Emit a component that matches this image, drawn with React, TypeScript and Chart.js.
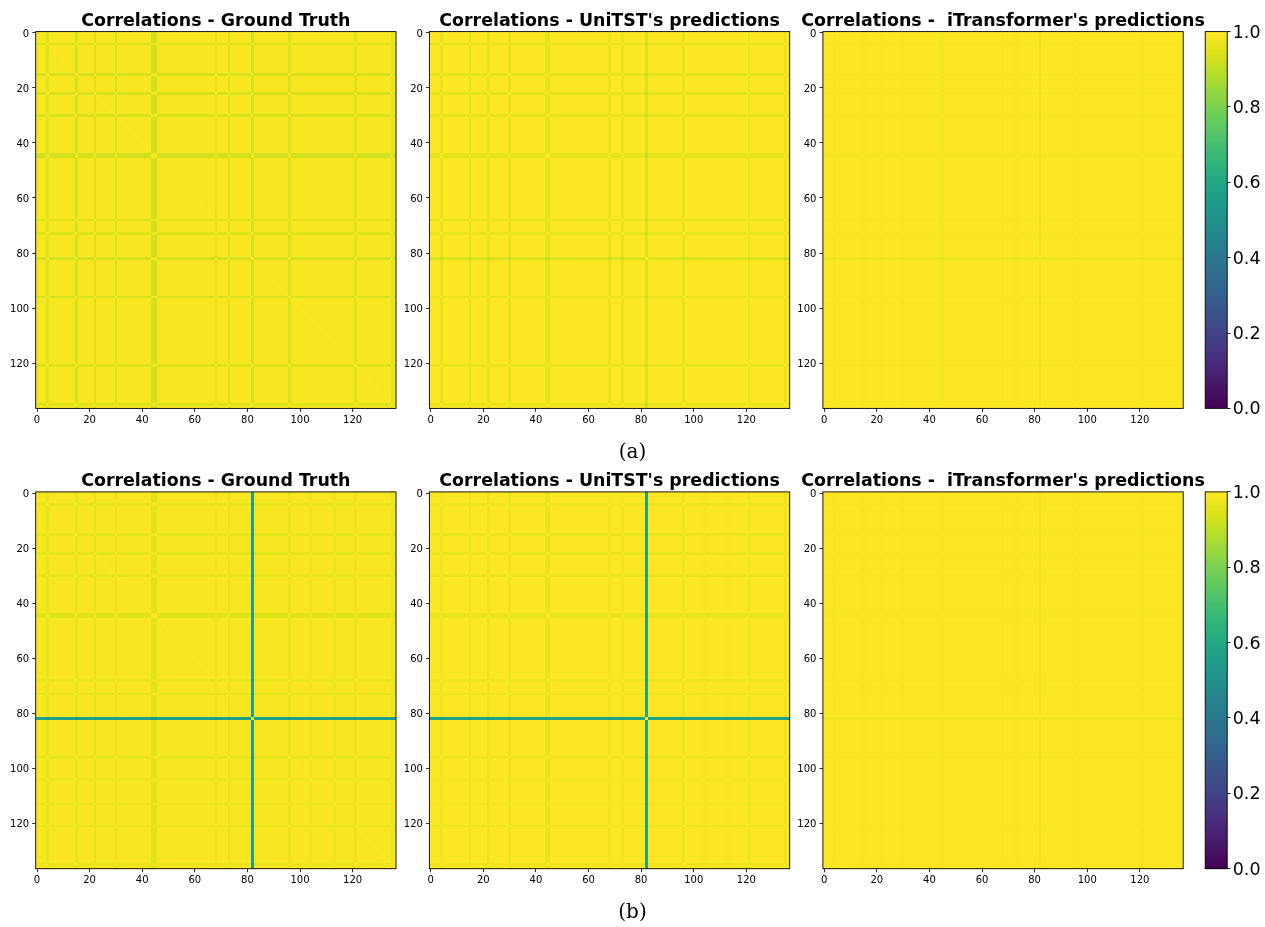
import React, { useEffect, useRef } from "react";
import { Chart, registerables } from "chart.js";

Chart.register(...registerables);

// ---------------- data ----------------
const N_VARIABLES = 137;
const AXIS_TICKS = [0, 20, 40, 60, 80, 100, 120];
const COLORBAR_TICKS = [0, 0.2, 0.4, 0.6, 0.8, 1.0];

// variables whose correlations deviate visibly from the rest
const LINE_INDICES = [4, 15, 22, 30, 44, 45, 68, 73, 82, 96, 104, 113, 121, 135];

// signed deviation of each listed variable, per panel (row a)
const GT_A_SHIFT = [-0.05, -0.055, -0.055, -0.055, -0.065, -0.065, -0.045, -0.05, -0.06, -0.055, 0, 0, -0.05, -0.05];
const UNITST_A_SHIFT = [-0.03, -0.035, -0.035, -0.035, -0.04, -0.04, -0.03, -0.03, 0.055, -0.03, 0, 0, -0.025, -0.03];
const ITRANS_A_SHIFT = [-0.004, -0.005, -0.005, -0.005, -0.006, -0.006, -0.004, -0.004, 0.022, -0.004, 0, 0, -0.003, -0.003];

// row b
const GT_B_SHIFT = [-0.03, -0.03, -0.035, -0.03, -0.04, -0.04, -0.025, -0.03, 0.43, -0.03, -0.02, -0.02, -0.025, -0.025];
const UNITST_B_SHIFT = [-0.02, -0.025, -0.025, -0.025, -0.03, -0.03, -0.02, -0.02, 0.41, -0.02, -0.01, -0.01, -0.02, -0.02];
const ITRANS_B_SHIFT = [-0.003, -0.004, -0.004, -0.004, -0.005, -0.005, -0.003, -0.003, 0.018, -0.003, 0, 0, -0.002, -0.002];

// general level below 1 of off-diagonal correlations, per panel
const BASE_A = [0.006, 0.005, 0.004];
const BASE_B = [0.006, 0.005, 0.004];

const PANEL_TITLES = [
  "Correlations - Ground Truth",
  "Correlations - UniTST's predictions",
  "Correlations -  iTransformer's predictions",
];
const ROW_CAPTIONS = ["(a)", "(b)"];

const VIRIDIS_STOPS = [
  "#440154", "#471365", "#482475", "#463480", "#414487", "#3b528b", "#355f8d",
  "#2f6c8e", "#2a788e", "#25848e", "#21918c", "#1e9c89", "#22a884", "#2fb47c",
  "#44bf70", "#5ec962", "#7ad151", "#9bd93c", "#bddf26", "#dfe318", "#fde725",
];

// ---------------- helpers ----------------
function hexToRgb(h: string) {
  return [parseInt(h.slice(1, 3), 16), parseInt(h.slice(3, 5), 16), parseInt(h.slice(5, 7), 16)];
}
const STOP_RGB = VIRIDIS_STOPS.map(hexToRgb);
const LUT: string[] = [];
for (let k = 0; k < 256; k++) {
  const t = (k / 255) * (STOP_RGB.length - 1);
  const a = Math.min(Math.floor(t), STOP_RGB.length - 2);
  const f = t - a;
  const c = STOP_RGB[a].map((v, i) => Math.round(v + (STOP_RGB[a + 1][i] - v) * f));
  LUT.push(`rgb(${c[0]},${c[1]},${c[2]})`);
}
function viridis(v: number) {
  const k = Math.max(0, Math.min(255, Math.round(v * 255)));
  return LUT[k];
}

type Cell = { x: number; y: number; v: number };
function buildCells(shift: number[], base: number): Cell[] {
  const dev = new Array(N_VARIABLES).fill(0);
  LINE_INDICES.forEach((idx, k) => {
    dev[idx] = shift[k];
  });
  const cells: Cell[] = [];
  for (let i = 0; i < N_VARIABLES; i++) {
    for (let j = 0; j < N_VARIABLES; j++) {
      const v = i === j ? 1 : Math.max(0, Math.min(1, 1 - base - Math.abs(dev[i] - dev[j])));
      cells.push({ x: j, y: i, v });
    }
  }
  return cells;
}

const heatmapPlugin = {
  id: "heatmap",
  beforeDatasetsDraw(chart: any) {
    const xs = chart.scales.x;
    const ys = chart.scales.y;
    const data = chart.data.datasets[0].data as Cell[];
    const xe: number[] = [];
    const ye: number[] = [];
    for (let k = 0; k <= N_VARIABLES; k++) {
      xe.push(Math.round(xs.getPixelForValue(k - 0.5)));
      ye.push(Math.round(ys.getPixelForValue(k - 0.5)));
    }
    const ctx = chart.ctx;
    ctx.save();
    for (const c of data) {
      ctx.fillStyle = viridis(c.v);
      ctx.fillRect(xe[c.x], ye[c.y], xe[c.x + 1] - xe[c.x], ye[c.y + 1] - ye[c.y]);
    }
    ctx.restore();
  },
};

const colorbarPlugin = {
  id: "colorbar",
  beforeDatasetsDraw(chart: any) {
    const ys = chart.scales.y;
    const { left, right } = chart.chartArea;
    const ctx = chart.ctx;
    ctx.save();
    const n = 256;
    for (let k = 0; k < n; k++) {
      const y0 = Math.round(ys.getPixelForValue((k + 1) / n));
      const y1 = Math.round(ys.getPixelForValue(k / n));
      ctx.fillStyle = viridis(k / (n - 1));
      ctx.fillRect(left, y0, right - left, y1 - y0);
    }
    ctx.restore();
  },
};

const framePlugin = {
  id: "frame",
  afterDraw(chart: any) {
    const { left, top, right, bottom } = chart.chartArea;
    const ctx = chart.ctx;
    ctx.save();
    ctx.strokeStyle = "#000";
    ctx.lineWidth = 0.9;
    ctx.strokeRect(left, top, right - left, bottom - top);
    const title = chart.options.plugins.panelTitle?.text;
    if (title) {
      ctx.fillStyle = "#000";
      ctx.font = 'bold 17.4px "DejaVu Sans"';
      ctx.textAlign = "center";
      ctx.textBaseline = "alphabetic";
      ctx.fillText(title, (left + right) / 2, top - 5.6);
    }
    ctx.restore();
  },
};

// ---------------- layout ----------------
const PLOT_LEFTS = [35.7, 429.4, 822.9];
const PLOT_TOPS = [31.6, 491.9];
const PLOT_W = 360.3;
const PLOT_H = 376.8;
const Y_AXIS_W = 28;
const X_AXIS_H = 22;
const CBAR_LEFT = 1205.2;
const CBAR_W = 22;

const PANEL_CW = 440;
const PANEL_CH = 432;
const CBAR_CL = 1195;
const CBAR_CW = 70;

const tickFont = { family: "DejaVu Sans", size: 10 };

export default function App() {
  const panelRefs = useRef<(HTMLCanvasElement | null)[]>([]);
  const cbarRefs = useRef<(HTMLCanvasElement | null)[]>([]);

  useEffect(() => {
    const charts: Chart[] = [];
    const shifts = [
      [GT_A_SHIFT, UNITST_A_SHIFT, ITRANS_A_SHIFT],
      [GT_B_SHIFT, UNITST_B_SHIFT, ITRANS_B_SHIFT],
    ];
    const bases = [BASE_A, BASE_B];
    for (let r = 0; r < 2; r++) {
      for (let c = 0; c < 3; c++) {
        const canvas = panelRefs.current[r * 3 + c];
        if (!canvas) continue;
        const cl = Math.floor(PLOT_LEFTS[c]) - 34;
        const ct = Math.floor(PLOT_TOPS[r]) - 31;
        const padLeft = PLOT_LEFTS[c] - cl - Y_AXIS_W;
        const padTop = PLOT_TOPS[r] - ct;
        const padRight = PANEL_CW - (PLOT_LEFTS[c] - cl) - PLOT_W;
        const padBottom = PANEL_CH - padTop - PLOT_H - X_AXIS_H;
        const cells = buildCells(shifts[r][c], bases[r][c]);
        charts.push(
          new Chart(canvas, {
            type: "scatter",
            data: { datasets: [{ data: cells as any, pointRadius: 0, pointHoverRadius: 0 }] },
            options: {
              responsive: false,
              animation: false,
              devicePixelRatio: 1,
              events: [],
              parsing: false,
              layout: { padding: { left: padLeft, top: padTop, right: padRight, bottom: padBottom } },
              plugins: {
                legend: { display: false },
                tooltip: { enabled: false },
                panelTitle: { text: PANEL_TITLES[c] },
              } as any,
              scales: {
                x: {
                  type: "linear",
                  min: -0.5,
                  max: N_VARIABLES - 0.5,
                  afterBuildTicks: (s: any) => {
                    s.ticks = AXIS_TICKS.map((value) => ({ value }));
                  },
                  afterFit: (s: any) => {
                    s.height = X_AXIS_H;
                  },
                  ticks: { font: tickFont, color: "#000", maxRotation: 0, minRotation: 0, autoSkip: false, padding: 2.5 },
                  grid: { drawOnChartArea: false, drawTicks: true, tickLength: 3.5, tickColor: "#000", tickWidth: 0.8 },
                  border: { display: false },
                },
                y: {
                  type: "linear",
                  reverse: true,
                  min: -0.5,
                  max: N_VARIABLES - 0.5,
                  afterBuildTicks: (s: any) => {
                    s.ticks = AXIS_TICKS.map((value) => ({ value }));
                  },
                  afterFit: (s: any) => {
                    s.width = Y_AXIS_W;
                  },
                  ticks: { font: tickFont, color: "#000", autoSkip: false, padding: 3, labelOffset: 1 },
                  grid: { drawOnChartArea: false, drawTicks: true, tickLength: 3.5, tickColor: "#000", tickWidth: 0.8 },
                  border: { display: false },
                },
              },
            } as any,
            plugins: [heatmapPlugin, framePlugin],
          })
        );
      }
      const cb = cbarRefs.current[r];
      if (cb) {
        const ct = Math.floor(PLOT_TOPS[r]) - 31;
        const padLeft = CBAR_LEFT - CBAR_CL;
        const padTop = PLOT_TOPS[r] - ct;
        const padBottom = PANEL_CH - padTop - PLOT_H;
        const axisW = CBAR_CW - padLeft - CBAR_W;
        charts.push(
          new Chart(cb, {
            type: "scatter",
            data: { datasets: [{ data: [], pointRadius: 0 }] },
            options: {
              responsive: false,
              animation: false,
              devicePixelRatio: 1,
              events: [],
              layout: { padding: { left: padLeft, top: padTop, right: 0, bottom: padBottom } },
              plugins: { legend: { display: false }, tooltip: { enabled: false } },
              scales: {
                x: { display: false, min: 0, max: 1 },
                y: {
                  type: "linear",
                  position: "right",
                  min: 0,
                  max: 1,
                  afterBuildTicks: (s: any) => {
                    s.ticks = COLORBAR_TICKS.map((value) => ({ value }));
                  },
                  afterFit: (s: any) => {
                    s.width = axisW;
                  },
                  ticks: {
                    font: { family: "DejaVu Sans", size: 17.5 },
                    color: "#000",
                    padding: 2,
                    labelOffset: 1.5,
                    callback: (v: any) => Number(v).toFixed(1),
                  },
                  grid: { drawOnChartArea: false, drawTicks: true, tickLength: 3.5, tickColor: "#000", tickWidth: 0.8 },
                  border: { display: false },
                },
              },
            } as any,
            plugins: [colorbarPlugin, framePlugin],
          })
        );
      }
    }
    return () => charts.forEach((ch) => ch.destroy());
  }, []);

  const canvases: React.ReactNode[] = [];
  for (let r = 0; r < 2; r++) {
    for (let c = 0; c < 3; c++) {
      const cl = Math.floor(PLOT_LEFTS[c]) - 34;
      const ct = Math.floor(PLOT_TOPS[r]) - 31;
      canvases.push(
        <canvas
          key={`p${r}${c}`}
          ref={(el) => {
            panelRefs.current[r * 3 + c] = el;
          }}
          width={PANEL_CW}
          height={PANEL_CH}
          style={{ position: "absolute", left: cl, top: ct, width: PANEL_CW, height: PANEL_CH }}
        />
      );
    }
    const ct = Math.floor(PLOT_TOPS[r]) - 31;
    canvases.push(
      <canvas
        key={`cb${r}`}
        ref={(el) => {
          cbarRefs.current[r] = el;
        }}
        width={CBAR_CW}
        height={PANEL_CH}
        style={{ position: "absolute", left: CBAR_CL, top: ct, width: CBAR_CW, height: PANEL_CH }}
      />
    );
  }

  return (
    <div style={{ position: "absolute", left: 0, top: 0, width: 1265, height: 927, background: "#fff", overflow: "hidden" }}>
      {canvases}
      {ROW_CAPTIONS.map((t, r) => (
        <div
          key={t}
          style={{
            position: "absolute",
            left: 532.5,
            width: 200,
            top: 440.6 + r * 460.3,
            textAlign: "center",
            fontFamily: '"DejaVu Serif"',
            fontSize: 20,
            lineHeight: "20px",
            color: "#000",
          }}
        >
          {t}
        </div>
      ))}
    </div>
  );
}
